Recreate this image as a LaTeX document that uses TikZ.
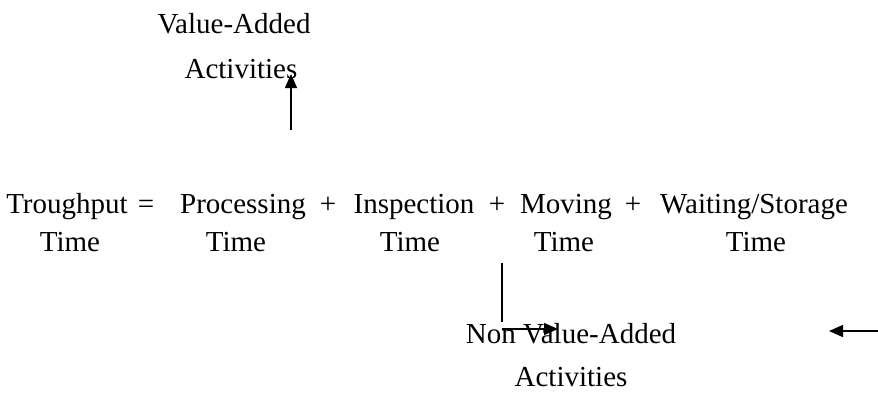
\documentclass[tikz,border=0pt]{standalone}
\usepackage{fontspec}
\setmainfont{Liberation Serif}
\usetikzlibrary{positioning, arrows.meta}

\begin{document}
\begin{tikzpicture}[x=1pt, y=-1pt, >={Triangle[length=14pt, width=12pt]}, line width=1.4pt,
    word/.style={inner sep=0pt, anchor=base, font=\fontsize{29}{35}\selectfont}]
  \useasboundingbox (0,0) rectangle (878,392);

  % value-added label
  \node[word] (va1) at (234,33) {Value-Added};
  \node[word] (va2) at (241,78) {Activities};

  % equation line
  \node[word] (tp)   at (67,213)  {Troughput};
  \node[word] (eq)   at (146,213) {=};
  \node[word] (proc) at (243,213) {Processing};
  \node[word] (pl1)  at (328,213) {+};
  \node[word] (insp) at (414,213) {Inspection};
  \node[word] (pl2)  at (497,213) {+};
  \node[word] (mov)  at (566,213) {Moving};
  \node[word] (pl3)  at (633,213) {+};
  \node[word] (wait) at (754,213) {Waiting/Storage};

  \node[word] (t1) at (70,251)  {Time};
  \node[word] (t2) at (236,251) {Time};
  \node[word] (t3) at (410,251) {Time};
  \node[word] (t4) at (564,251) {Time};
  \node[word] (t5) at (756,251) {Time};

  % non value-added label
  \node[word] (nva1) at (571,343) {Non Value-Added};
  \node[word] (nva2) at (571,386) {Activities};

  % arrows
  \coordinate (up-tail) at (291,130);
  \coordinate (up-tip) at (291,74);
  \coordinate (drop-top) at (502,263);
  \coordinate (drop-foot) at (502,322);
  \coordinate (run-tail) at (502,329);
  \coordinate (run-tip) at (558,329);
  \coordinate (side-tail) at (878,331);
  \coordinate (side-tip) at (829,331);

  \draw[->] (up-tail) -- (up-tip);
  \draw (drop-top) -- (drop-foot);
  \draw[->] (run-tail) -- (run-tip);
  \draw[->] (side-tail) -- (side-tip);
\end{tikzpicture}
\end{document}
